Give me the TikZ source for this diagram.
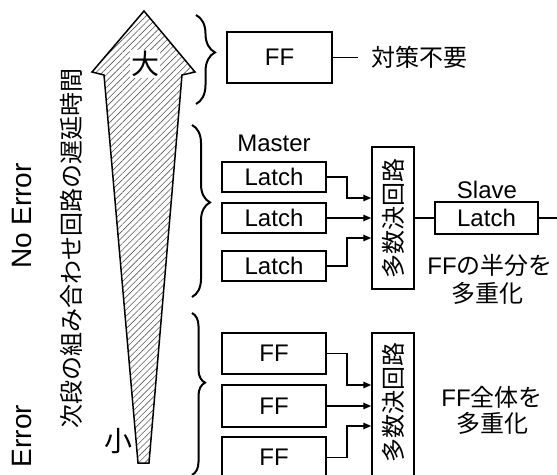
\documentclass[tikz,border=0pt]{standalone}
\usepackage{fontspec}
\setmainfont{Liberation Sans}
\newfontfamily\jp{Noto Sans CJK JP}
\usetikzlibrary{arrows.meta,patterns.meta,decorations.pathreplacing,calc}
\begin{document}
\begin{tikzpicture}[x=1pt,y=-1pt,
  every node/.style={font=\fontsize{24}{28}\selectfont, inner sep=0pt},
  box/.style={draw, line width=1.5pt, minimum width=104pt},
  latchbox/.style={box, minimum height=30pt},
  ffbox/.style={box, minimum height=41pt},
  voter/.style={draw, line width=1.5pt, minimum width=42pt},
  arr/.style={line width=1.5pt, -{Triangle[length=8pt,width=6.5pt]}},
  ln/.style={line width=1.5pt},
  big/.style={font=\fontsize{28}{32}\selectfont},
  brc/.style n args={2}{decorate, line width=2pt, decoration={brace, amplitude=#1, aspect=#2}},
]
\useasboundingbox (0,0) rectangle (557,474);

% big arrow
\draw[line width=1.5pt, pattern={Lines[angle=45,distance=4.5pt,line width=0.6pt]}, pattern color=black!65]
  (144,11) -- (195,72) -- (182,75) -- (149,463) -- (138,463) -- (104,75) -- (92,72) -- cycle;
\node[fill=white, inner sep=1pt, big] (bigc) at (145,64) {\jp 大};
\node[big] (smallc) at (118,441) {\jp 小};

% side labels
\node[rotate=90] (delay) at (71,248) {\jp 次段の組み合わせ回路の遅延時間};
\node[rotate=90, big] (noerr) at (22,216) {No Error};
\node[rotate=90, big] (err) at (22,436) {Error};

% braces
\draw[brc={19pt}{0.42}] (196,15) -- (196,104);
\draw[brc={18pt}{0.45}] (192,125) -- (192,297);
\draw[brc={13pt}{0.43}] (192,313) -- (192,475);

% top
\node[box, minimum width=105pt, minimum height=51pt] (ff0) at (279.5,57.5) {FF};
\node[anchor=west] (nc) at (371,57) {\jp 対策不要};
\draw[ln] (ff0.east) -- ++(25,0);

% middle
\node (master) at (274,143) {Master};
\node[latchbox] (l1) at (274,177) {Latch};
\node[latchbox] (l2) at (274,218) {Latch};
\node[latchbox] (l3) at (274,266) {Latch};
\node[voter, minimum height=142pt] (v1) at (393,218) {};
\node[rotate=90] (v1t) at (v1) {\jp 多数決回路};
\draw[arr] (l1.east) -- ++(20,0) |- ($(v1.west)+(0,-20)$);
\draw[arr] (l2.east) -- (v1.west);
\draw[arr] (l3.east) -- ++(20,0) |- ($(v1.west)+(0,20)$);
\node[box, minimum width=103pt, minimum height=32pt] (sl) at (486.5,218) {Latch};
\node (slave) at (487,190) {Slave};
\draw[ln] (v1.east) -- (sl.west);
\draw[ln] (sl.east) -- ++(25,0);
\node (half) at (490,265) {FF{\jp の半分を}};
\node (mul1) at (487,293) {\jp 多重化};

% bottom
\node[ffbox] (f1) at (274,353.5) {FF};
\node[ffbox, minimum height=42pt] (f2) at (274,406) {FF};
\node[ffbox] (f3) at (274,457.5) {FF};
\node[voter, minimum height=156pt] (v2) at (393,411) {};
\node[rotate=90] (v2t) at (393,402) {\jp 多数決回路};
\draw[arr] (f1.east) -- ++(20,0) |- ($(f2.east -| v2.west)+(0,-21)$);
\draw[arr] (f2.east) -- (f2.east -| v2.west);
\draw[arr] (f3.east) -- ++(20,0) |- ($(f2.east -| v2.west)+(0,20)$);
\node (whole) at (492,397) {FF{\jp 全体を}};
\node (mul2) at (492,423) {\jp 多重化};
\end{tikzpicture}
\end{document}
